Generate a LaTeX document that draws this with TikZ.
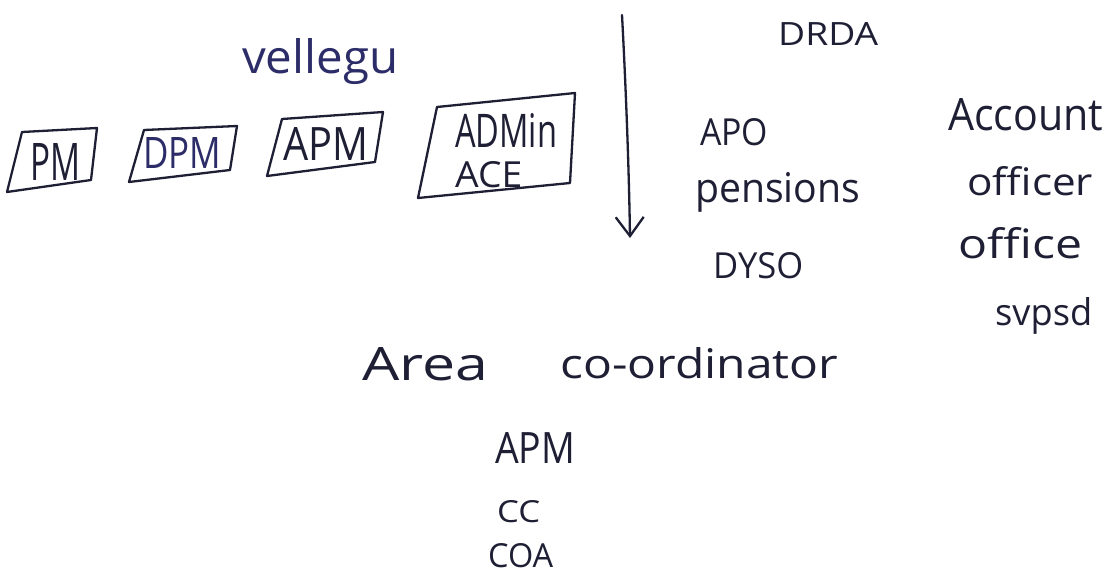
\documentclass[tikz,border=0pt]{standalone}
\usepackage{fontspec}
\setmainfont{Open Sans}
\usetikzlibrary{arrows.meta}
\definecolor{ink}{HTML}{1E1E34}
\definecolor{blueink}{HTML}{2C2C68}
% fit a word to a given width and height above its baseline
\newcommand{\handword}[3]{\resizebox{#1pt}{#2pt}{#3}}

\begin{document}
\begin{tikzpicture}[x=1pt,y=-1pt,
  word/.style={inner sep=0pt, anchor=base west, text=ink},
  frame/.style={draw=ink, line width=2.3pt, line join=round, line cap=round},
  pointer/.style={draw=ink, line width=2.3pt, line cap=round,
    -{Straight Barb[length=19pt,width=28pt,line width=2.3pt]}}]
\fill[white] (0,0) rectangle (1108,574);
\useasboundingbox (0,0) rectangle (1108,574);

% heading over the boxed posts
\node[word, text=blueink] (velugu) at (242,73) {\handword{156}{35}{vellegu}};

% boxed posts, each frame drawn a little askew
\draw[frame] (22,132) -- (97,128) -- (91,180) -- (7,192) -- cycle;
\node[word] (pm) at (30,180) {\handword{50}{37}{PM}};

\draw[frame] (144,130) -- (237,126) -- (230,170) -- (129,182) -- cycle;
\node[word, text=blueink] (dpm) at (143,168) {\handword{78}{31}{DPM}};

\draw[frame] (282,119) -- (383,112) -- (375,162) -- (267,176) -- cycle;
\node[word] (apm) at (283,160) {\handword{85}{33}{APM}};

\draw[frame] (437,107) -- (575,93) -- (570,183) -- (418,198) -- cycle;
\node[word] (admin) at (455,147) {\handword{102}{34}{ADMin}};
\node[word] (ace) at (455,187) {\handword{67}{26}{ACE}};

% downward arrow
\coordinate (top) at (622,15);
\coordinate (tip) at (630,238);
\draw[pointer] (top) .. controls (626,90) and (629,170) .. (tip);

% DRDA column
\node[word] (drda) at (778,45) {\handword{100}{23}{DRDA}};
\node[word] (apo) at (700,145) {\handword{68}{27}{APO}};
\node[word] (pensions) at (695,202) {\handword{165}{30}{pensions}};
\node[word] (dyso) at (713,278) {\handword{90}{26}{DYSO}};

\node[word] (account) at (948,130) {\handword{155}{32}{Account}};
\node[word] (officer) at (967,195) {\handword{126}{29}{officer}};
\node[word] (office) at (958,258) {\handword{124}{31}{office}};
\node[word] (svpsd) at (995,325) {\handword{97}{28}{svpsd}};

% area co-ordinator group
\node[word] (area) at (362,380) {\handword{126}{33}{Area}};
\node[word] (coord) at (560,378) {\handword{278}{31}{co-ordinator}};

\node[word] (apm2) at (495,463) {\handword{80}{31}{APM}};
\node[word] (cc) at (497,522) {\handword{43}{22}{CC}};
\node[word] (coa) at (488,567) {\handword{65}{24}{COA}};
\end{tikzpicture}
\end{document}
